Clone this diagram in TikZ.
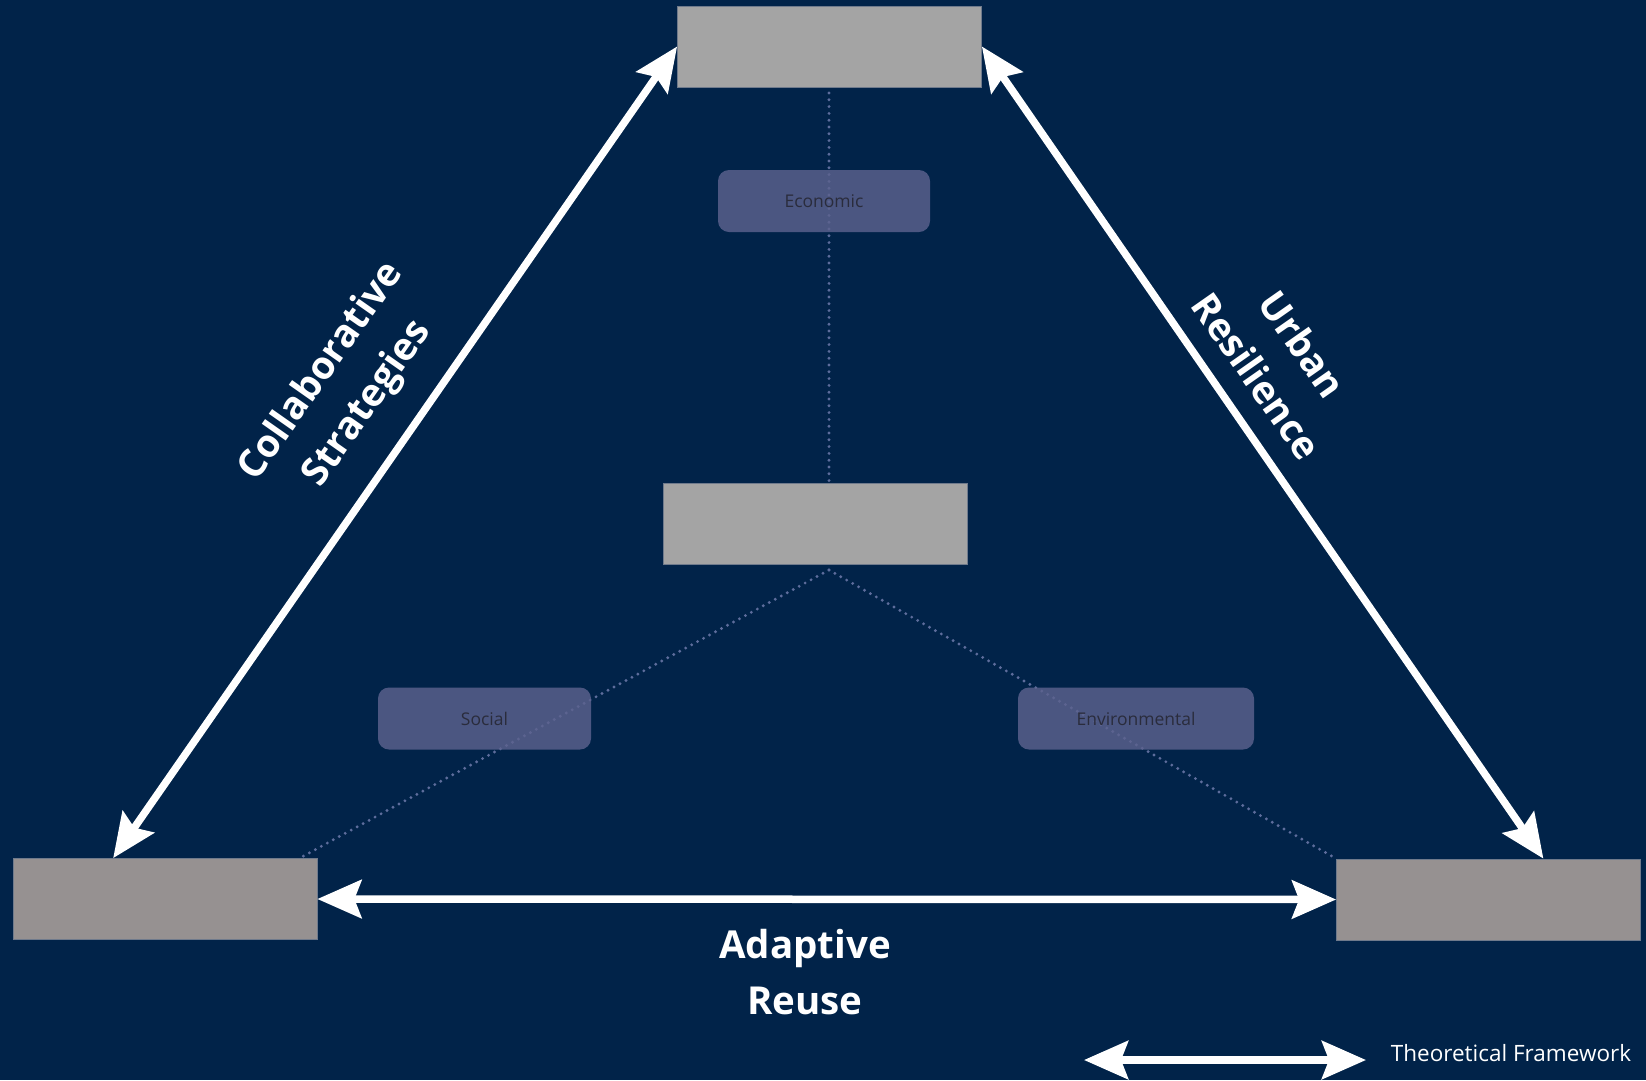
\documentclass[tikz,border=0pt]{standalone}
\usepackage{fontspec}
\setmainfont{Open Sans}
\usetikzlibrary{arrows.meta,calc}

\definecolor{bgnavy}{HTML}{012349}
\definecolor{boxgray}{HTML}{A4A4A4}
\definecolor{boxwarm}{HTML}{969191}
\definecolor{boxedge}{HTML}{6F7A8C}
\definecolor{pillfill}{HTML}{5C628E}
\definecolor{pilltext}{HTML}{2A2C3C}
\definecolor{dotline}{HTML}{5E6D9C}

\tikzset{
  pillar/.style={draw=boxedge, line width=0.8pt, fill=#1, minimum width=304pt, minimum height=81pt, inner sep=0pt},
  pill/.style={fill=pillfill, fill opacity=0.82, text opacity=1, text=pilltext, rounded corners=11pt,
    minimum height=62pt, inner sep=0pt, font=\fontsize{17.5}{20}\selectfont},
  dotlink/.style={dotline, line width=3.2pt, line cap=round, dash pattern=on 0pt off 6.8pt},
  twoway/.style={white, line width=7.5pt,
    {Stealth[length=44pt,width=38pt,inset=7pt]}-{Stealth[length=44pt,width=38pt,inset=7pt]}},
  bigword/.style={text=white, align=center, font=\bfseries\fontsize{38.5}{56}\selectfont, inner sep=0pt},
}

\begin{document}
\begin{tikzpicture}[x=1pt, y=-1pt]
  \fill[bgnavy] (0,0) rectangle (1646,1080);
  \useasboundingbox (0,0) rectangle (1646,1080);

  % the four pillars
  \node[pillar=boxgray] (top) at (829.5,46.5) {};
  \node[pillar=boxgray] (mid) at (815,523.5) {};
  \node[pillar=boxwarm] (bl)  at (165,899) {};
  \node[pillar=boxwarm] (br)  at (1488.5,899.5) {};

  % dotted links from the central pillar
  \coordinate (topfoot) at (829,93);
  \coordinate (midtop)  at (829,483);
  \coordinate (apex)    at (829,570);
  \coordinate (blcorner) at (298,859);
  \draw[dotlink] (topfoot) -- (midtop);
  \draw[dotlink] (apex) -- (blcorner);
  \draw[dotlink] (apex) -- (br.north west);

  % dimension pills
  \node[pill, minimum width=212pt] (eco) at (824,201) {Economic};
  \node[pill, minimum width=213pt] (soc) at (484.5,718.5) {Social};
  \node[pill, minimum width=236pt] (env) at (1136,718.5) {Environmental};

  % framework arrows
  \coordinate (blhead) at ($(bl.north west)!0.33!(bl.north east)$);
  \coordinate (brhead) at ($(br.north west)!0.68!(br.north east)$);
  \draw[twoway] (blhead) -- (top.west);
  \draw[twoway] (top.east) -- (brhead);
  \draw[twoway] (bl.east) -- (br.west);

  % arrow labels
  \node[bigword, rotate=55] (collab) at (345,388) {Collaborative\\Strategies};
  \node[bigword, rotate=-55] (urban) at (1280,360) {Urban\\Resilience};
  \node[bigword] (adapt) at (805,972) {Adaptive\\Reuse};

  % legend
  \coordinate (legl) at (1084,1060);
  \coordinate (legr) at (1366,1060);
  \draw[twoway] (legl) -- (legr);
  \node[text=white, font=\fontsize{22.5}{26}\selectfont, inner sep=0pt] (legtext) at (1511,1053) {Theoretical Framework};
\end{tikzpicture}
\end{document}
